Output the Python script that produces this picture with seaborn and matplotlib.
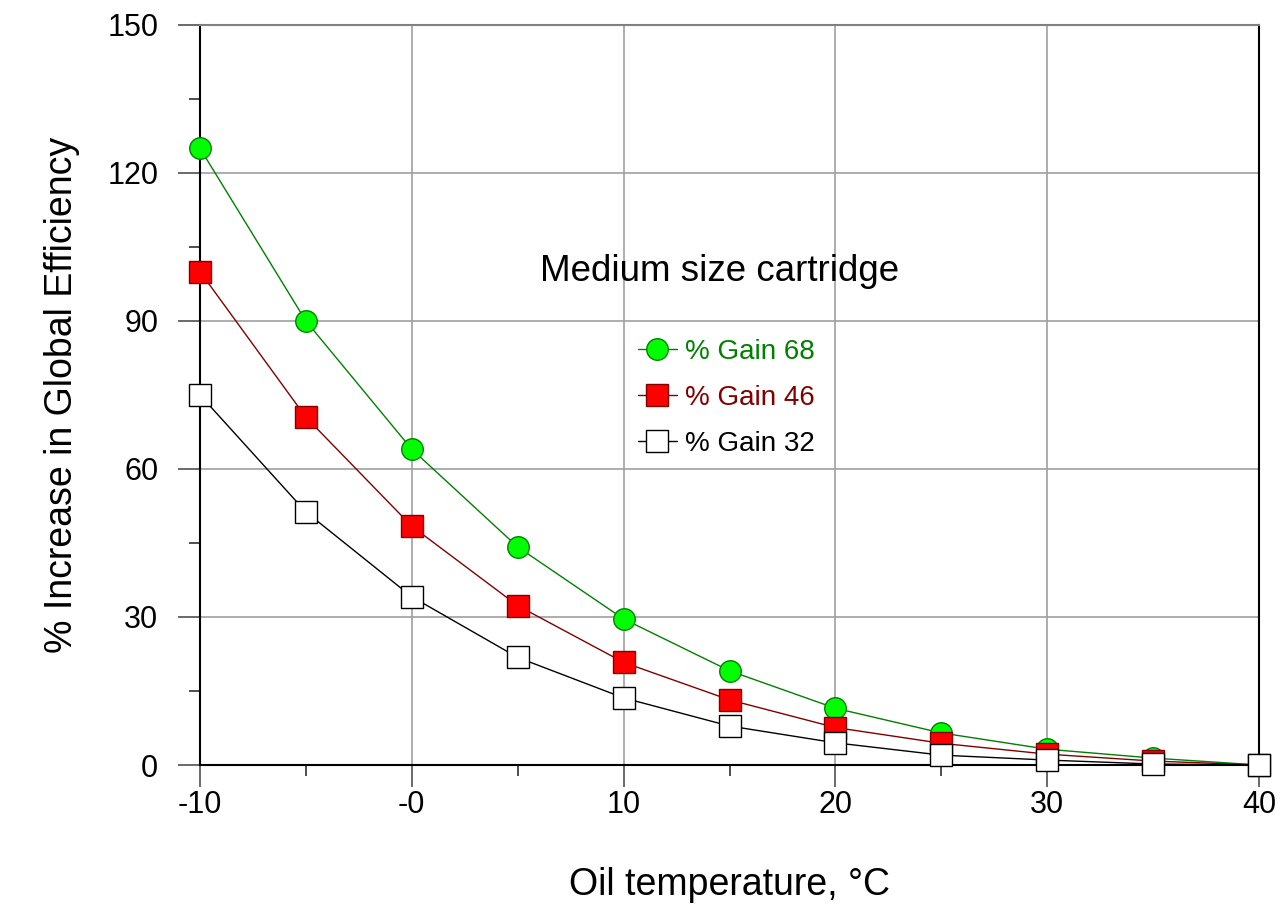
import numpy as np
import pandas as pd
import matplotlib
matplotlib.use("Agg")
import matplotlib.pyplot as plt
from matplotlib.ticker import MultipleLocator, FixedLocator, FixedFormatter
import seaborn as sns

# ---- data ----
temperature = [-10, -5, 0, 5, 10, 15, 20, 25, 30, 35, 40]
gain_68 = [125.0, 90.0, 64.0, 44.2, 29.6, 19.1, 11.5, 6.5, 3.2, 1.4, 0.0]
gain_46 = [100.0, 70.5, 48.4, 32.3, 20.8, 13.2, 7.6, 4.4, 2.2, 0.8, 0.0]
gain_32 = [75.0, 51.3, 34.1, 21.8, 13.6, 7.9, 4.5, 2.0, 1.0, 0.2, 0.0]
series_labels = ["% Gain 68", "% Gain 46", "% Gain 32"]
x_tick_values = [-10, 0, 10, 20, 30, 40]
x_tick_labels = ["-10", "-0", "10", "20", "30", "40"]
y_tick_values = [0, 30, 60, 90, 120, 150]

sns.set_theme(style="white")
plt.rcParams["font.family"] = ["Liberation Sans", "DejaVu Sans"]
plt.rcParams["text.color"] = "black"
plt.rcParams["axes.labelcolor"] = "black"
plt.rcParams["xtick.color"] = "black"
plt.rcParams["ytick.color"] = "black"

fig = plt.figure(figsize=(12.8, 9.13), dpi=100)
ax = fig.add_axes([200 / 1280, 1 - 765 / 913, 1059 / 1280, 740 / 913])

styles = [
    dict(color="#008000", marker="o", markerfacecolor="#00ff00", markeredgecolor="#008000"),
    dict(color="#800000", marker="s", markerfacecolor="#ff0000", markeredgecolor="#800000"),
    dict(color="#000000", marker="s", markerfacecolor="#ffffff", markeredgecolor="#000000"),
]
for vals, lab, st in zip([gain_68, gain_46, gain_32], series_labels, styles):
    df = pd.DataFrame({"T": temperature, "G": vals})
    sns.lineplot(data=df, x="T", y="G", ax=ax, label=lab, linewidth=1.0,
                 markersize=15.5, markeredgewidth=1.0, clip_on=False, zorder=3, **st)

ax.set_xlim(-10, 40)
ax.set_ylim(0, 150)
ax.xaxis.set_major_locator(FixedLocator(x_tick_values))
ax.xaxis.set_major_formatter(FixedFormatter(x_tick_labels))
ax.xaxis.set_minor_locator(MultipleLocator(5))
ax.yaxis.set_major_locator(FixedLocator(y_tick_values))
ax.yaxis.set_minor_locator(MultipleLocator(15))

ax.grid(True, which="major", color="#a0a0a0", linewidth=1.2)
ax.set_axisbelow(True)

ax.tick_params(axis="both", which="major", direction="out", length=16, width=1.2,
               color="#505050", labelsize=22, labelcolor="black")
ax.tick_params(axis="both", which="minor", direction="out", length=8, width=1.2,
               color="#303030")
ax.tick_params(axis="y", which="major", pad=14)
ax.tick_params(axis="x", which="major", pad=2)
ax.tick_params(bottom=True, left=True, which="both")

for side in ["left", "bottom", "right"]:
    ax.spines[side].set_color("black")
    ax.spines[side].set_linewidth(1.5)
ax.spines["top"].set_color("#808080")
ax.spines["top"].set_linewidth(1.5)

ax.set_xlabel("Oil temperature, °C", fontsize=27, labelpad=34, color="black")
ax.set_ylabel("% Increase in Global Efficiency", fontsize=27, labelpad=20, color="black")

ax.text(14.55, 100, "Medium size cartridge", fontsize=26.5, ha="center", va="center",
        color="black")

leg = ax.legend(loc="upper left", bbox_to_anchor=(0.4136, 0.576), frameon=False,
                fontsize=20, handlelength=1.4, handletextpad=0.3, labelspacing=0.72,
                borderpad=0, borderaxespad=0)
for txt, c in zip(leg.get_texts(), ["#008000", "#800000", "#000000"]):
    txt.set_color(c)

fig.savefig("out.png", dpi=100)
